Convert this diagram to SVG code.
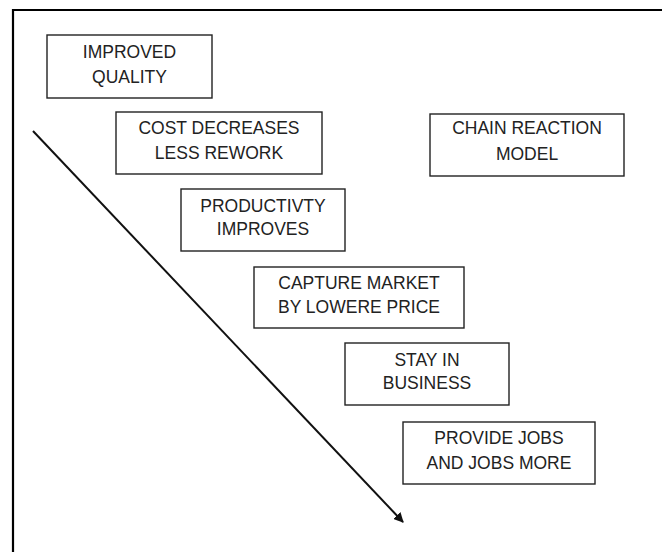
<svg xmlns="http://www.w3.org/2000/svg" width="662" height="552" viewBox="0 0 662 552">
<style>
.box rect{fill:#fff;stroke:#222;stroke-width:1.4}
.box text{font-family:"Liberation Sans",Arial,sans-serif;font-size:17.5px;fill:#222;text-anchor:middle}
</style>
<defs>
<marker id="ah" viewBox="0 0 10 10" refX="9" refY="5" markerWidth="5" markerHeight="5" orient="auto" markerUnits="strokeWidth">
<path d="M0,0 L10,5 L0,10 Z" fill="#111"/>
</marker>
</defs>
<rect width="662" height="552" fill="#fff"/>
<path d="M13,552 V10 H662" fill="none" stroke="#000" stroke-width="2.2"/>
<g id="connectors">
<line x1="33" y1="131" x2="403" y2="522" stroke="#111" stroke-width="2" marker-end="url(#ah)"/>
</g>
<g id="n1" class="box"><rect x="47" y="35" width="165" height="63"/><text x="129.5" y="58">IMPROVED</text><text x="129.5" y="83">QUALITY</text></g>
<g id="n2" class="box"><rect x="116" y="112" width="206" height="62"/><text x="219" y="134">COST DECREASES</text><text x="219" y="159">LESS REWORK</text></g>
<g id="n3" class="box"><rect x="430" y="114" width="194" height="62"/><text x="527" y="134">CHAIN REACTION</text><text x="527" y="160">MODEL</text></g>
<g id="n4" class="box"><rect x="181" y="189" width="164" height="62"/><text x="263" y="212">PRODUCTIVTY</text><text x="263" y="235">IMPROVES</text></g>
<g id="n5" class="box"><rect x="254" y="267" width="210" height="61"/><text x="359" y="289">CAPTURE MARKET</text><text x="359" y="313">BY LOWERE PRICE</text></g>
<g id="n6" class="box"><rect x="345" y="343" width="164" height="62"/><text x="427" y="366">STAY IN</text><text x="427" y="389">BUSINESS</text></g>
<g id="n7" class="box"><rect x="403" y="422" width="192" height="62"/><text x="499" y="444">PROVIDE JOBS</text><text x="499" y="469">AND JOBS MORE</text></g>
</svg>
